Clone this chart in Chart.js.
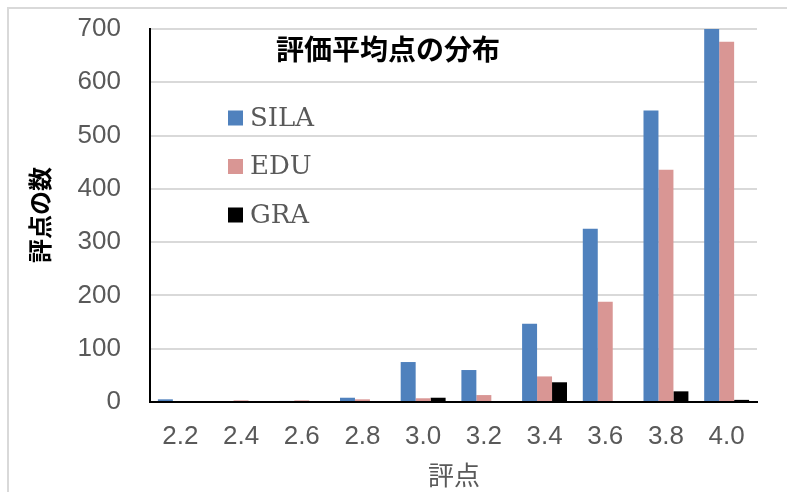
<!DOCTYPE html>
<html>
<head>
<meta charset="utf-8">
<script src="https://cdn.jsdelivr.net/npm/chart.js@4"></script>
<style>
  html, body { margin:0; padding:0; background:#ffffff; }
  canvas { display:block; }
</style>
</head>
<body>
<canvas id="chart" width="787" height="492"></canvas>
<script>
// ---- data ----
const categories = ['2.2', '2.4', '2.6', '2.8', '3.0', '3.2', '3.4', '3.6', '3.8', '4.0'];
const silaValues = [5, 0, 2, 8, 75, 60, 147, 325, 547, 715];
const eduValues  = [0, 3, 3, 5, 7, 13, 48, 188, 436, 676];
const graValues  = [0, 0, 0, 0, 8, 0, 37, 0, 20, 4];
const seriesNames = ['SILA', 'EDU', 'GRA'];
const yMax = 700, yStep = 100;

const chartTitle = '評価平均点の分布';
const xTitle = '評点';
const yTitle = '評点の数';

const colors = ['#4f81bd', '#d99694', '#000000'];
const narrow = "'Liberation Sans Narrow', 'Liberation Sans', Arial, sans-serif";
const cjk = "'Noto Sans CJK JP', 'Noto Sans', sans-serif";

/* outer frame, inner title, legend and axis titles */
const overlay = {
  id: 'overlay',
  beforeDraw(chart) {
    const ctx = chart.ctx;
    ctx.save();
    ctx.strokeStyle = '#d9d9d9';
    ctx.lineWidth = 2;
    ctx.strokeRect(8, 8, 900, 600);
    ctx.restore();
  },
  afterDraw(chart) {
    const ctx = chart.ctx;
    ctx.save();
    // title inside the plot
    ctx.fillStyle = '#000000';
    ctx.font = `bold 28px ${cjk}`;
    ctx.textAlign = 'center';
    ctx.textBaseline = 'middle';
    ctx.fillText(chartTitle, 388, 49);

    // legend, stacked vertically inside the plot
    ctx.font = "26px 'DejaVu Serif', 'Liberation Serif', serif";
    ctx.textAlign = 'left';
    chart.data.datasets.forEach((ds, i) => {
      const y = 118 + i * 48.5;
      ctx.fillStyle = ds.backgroundColor;
      ctx.fillRect(228, y - 7.5, 15, 15);
      ctx.fillStyle = '#595959';
      ctx.fillText(ds.label, 250, y + 1);
    });

    // x axis title
    ctx.fillStyle = '#595959';
    ctx.font = `26px ${cjk}`;
    ctx.textAlign = 'center';
    ctx.fillText(xTitle, 454, 475);

    // y axis title, rotated
    ctx.translate(40, 215);
    ctx.rotate(-Math.PI / 2);
    ctx.fillStyle = '#000000';
    ctx.font = `bold 24px ${cjk}`;
    ctx.fillText(yTitle, 0, 0);
    ctx.restore();
  }
};

const valueLists = [silaValues, eduValues, graValues];

new Chart(document.getElementById('chart'), {
  type: 'bar',
  data: {
    labels: categories,
    datasets: seriesNames.map((name, i) => ({
      label: name,
      data: valueLists[i],
      backgroundColor: colors[i],
      borderWidth: 0,
      categoryPercentage: 0.74,
      barPercentage: 1.0
    }))
  },
  options: {
    responsive: false,
    animation: false,
    devicePixelRatio: 1,
    layout: { padding: { top: 29, right: 30, bottom: 0, left: 0 } },
    plugins: {
      legend: { display: false },
      title: { display: false },
      tooltip: { enabled: false }
    },
    scales: {
      x: {
        grid: { display: false, drawTicks: false },
        border: { color: '#000000', width: 2 },
        ticks: { color: '#595959', font: { family: narrow, size: 26 }, padding: 19, maxRotation: 0 },
        afterFit: (s) => { s.height = 90; }
      },
      y: {
        min: 0,
        max: yMax,
        // invisible ticks give the gap between labels and axis
        grid: { color: '#d9d9d9', lineWidth: 2, drawTicks: true, tickLength: 26, tickColor: 'rgba(0,0,0,0)' },
        border: { color: '#000000', width: 2 },
        ticks: { stepSize: yStep, color: '#595959', font: { family: narrow, size: 26 }, padding: 3 },
        afterFit: (s) => { s.width = 150; }
      }
    }
  },
  plugins: [overlay]
});
</script>
</body>
</html>
